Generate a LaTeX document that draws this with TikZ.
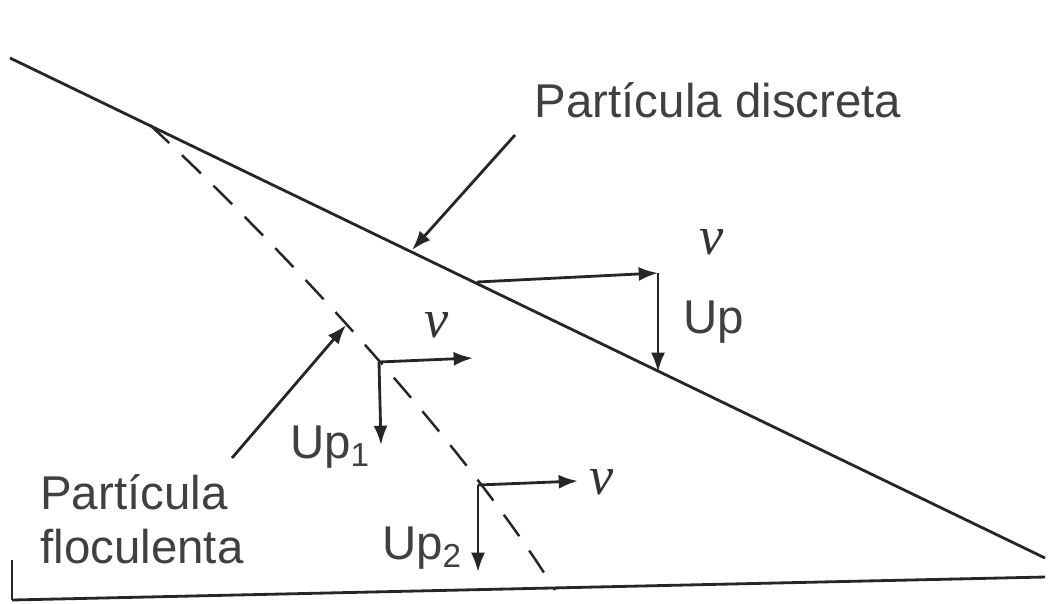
\documentclass[tikz,border=0pt]{standalone}
\usepackage{fontspec}
\setmainfont{Liberation Sans}
\newfontfamily\speedfont{Liberation Serif}
\usetikzlibrary{arrows.meta}
\tikzset{
	line/.style     = {draw=black!85, line width=1.6pt},
	vector/.style   = {line, -{Latex[length=11pt,width=8pt]}},
	flocline/.style = {line, line width=1.4pt, dash pattern=on 15pt off 10pt},
	label/.style    = {text=black!75, font=\fontsize{27}{31}\selectfont, inner sep=0pt},
	speed/.style    = {text=black!80, font=\speedfont\itshape\fontsize{31}{31}\selectfont, inner sep=0pt},
	hidden/.style   = {coordinate},
}

\begin{document}
\begin{tikzpicture}[x=0.02cm, y=-0.02cm]
	\useasboundingbox (0,0) rectangle (1050,603);

	% Draw the settling paths
	\draw
	node[hidden] at (10,58)    (discstart) {}
	node[hidden] at (1045,558) (discend) {}
	node[hidden] at (150,125)  (flocstart) {}
	node[hidden] at (555,590)  (flocend) {}
	node[hidden] at (12,600)   (baseleft) {}
	node[hidden] at (1045,577) (baseright) {}
	node[hidden] at (12,560)   (edgetop) {};

	\draw[line] (discstart) -- (discend);
	\draw[flocline] (flocstart) .. controls (290,255) and (465,445) .. (flocend);
	\draw[line] (baseleft) -- (baseright);
	\draw[line, line width=1pt] (edgetop) -- (baseleft);

	% Draw the labels and their pointers
	\draw
	node[label] at (718,100) (disclabel) {Partícula discreta}
	node[hidden] at (515,135) (disctail) {}
	node[hidden] at (412,250) (dischead) {}
	node[label, anchor=west, align=left] at (40,519) (floclabel) {Partícula\\floculenta}
	node[hidden] at (232,458) (floctail) {}
	node[hidden] at (346,325) (flochead) {};

	\draw[vector] (disctail) -- (dischead);
	\draw[vector] (floctail) -- (flochead);

	% Draw the discrete particle velocities
	\draw
	node[hidden] at (477,282) (dorigin) {}
	node[hidden] at (658,273) (dcorner) {}
	node[hidden] at (658,372) (ddown) {}
	node[speed] at (712,242) (dv) {v}
	node[label, anchor=west] at (683,322) (dup) {Up};

	\draw[vector] (dorigin) -- (dcorner);
	\draw[vector] (dcorner) -- (ddown);

	% Draw the floculent particle velocities
	\draw
	node[hidden] at (379,362) (fonecorner) {}
	node[hidden] at (473,358) (foneright) {}
	node[hidden] at (381,445) (fonedown) {}
	node[speed] at (437,325) (fonev) {v}
	node[label] at (330,447) (foneup) {Up\textsubscript{1}}
	node[hidden] at (478,485) (ftwocorner) {}
	node[hidden] at (578,481) (ftworight) {}
	node[hidden] at (478,572) (ftwodown) {}
	node[speed] at (602,482) (ftwov) {v}
	node[label] at (422,548) (ftwoup) {Up\textsubscript{2}};

	\draw[vector] (fonecorner) -- (foneright);
	\draw[vector] (fonecorner) -- (fonedown);
	\draw[vector] (ftwocorner) -- (ftworight);
	\draw[vector] (ftwocorner) -- (ftwodown);

\end{tikzpicture}
\end{document}
